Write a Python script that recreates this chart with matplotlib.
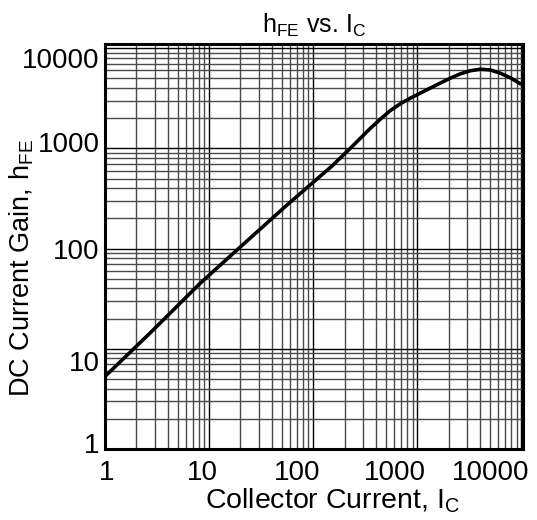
import matplotlib
matplotlib.use('Agg')
import matplotlib.pyplot as plt
import matplotlib.transforms as mtransforms
from matplotlib.ticker import LogLocator, NullFormatter

# ---- data ----
collector_current = [1, 2.7, 8.2, 20, 56, 150, 227, 353, 450, 550, 700, 857, 1070,
                     1330, 1660, 2080, 2590, 3240, 4040, 5040, 6280, 7840, 10000]
dc_gain = [5.3, 14.3, 45, 104, 272, 660, 1000, 1580, 1990, 2380, 2820, 3170, 3560,
           3990, 4480, 5020, 5540, 5950, 6160, 6060, 5620, 5060, 4350]

x_ticks = [1, 10, 100, 1000, 10000]
x_tick_labels = ['1', '10', '100', '1000', '10000']
y_ticks = [1, 10, 100, 1000, 10000]
y_tick_labels = ['1', '10', '100', '1000', '10000']

plt.rcParams['font.family'] = ['Liberation Sans', 'DejaVu Sans']
plt.rcParams['mathtext.fontset'] = 'custom'
plt.rcParams['mathtext.rm'] = 'Liberation Sans'
plt.rcParams['mathtext.it'] = 'Liberation Sans:italic'
plt.rcParams['mathtext.bf'] = 'Liberation Sans:bold'

W, H = 537, 520
fig = plt.figure(figsize=(W / 100, H / 100), dpi=100)
left, right, top, bottom = 105, 522.7, 44, 449
ax = fig.add_axes([left / W, (H - bottom) / H, (right - left) / W, (bottom - top) / H])

ax.set_xscale('log')
ax.set_yscale('log')
ax.set_xlim(1, 10300)
ax.set_ylim(1, 11000)

ax.plot(collector_current, dc_gain, color='black', lw=2.6, zorder=3,
        solid_joinstyle='round', solid_capstyle='butt')

ax.set_xticks(x_ticks)
ax.set_xticklabels(x_tick_labels)
ax.set_yticks(y_ticks)
ax.set_yticklabels(y_tick_labels)
for axis in (ax.xaxis, ax.yaxis):
    axis.set_minor_locator(LogLocator(base=10, subs=range(2, 10), numticks=20))
    axis.set_minor_formatter(NullFormatter())

ax.tick_params(which='both', length=0)
ax.tick_params(axis='x', labelsize=20, pad=8)
ax.tick_params(axis='y', labelsize=20, pad=4)

ax.grid(which='major', color='black', lw=1.0)
ax.grid(which='minor', color='#4a4a4a', lw=1.0)
ax.set_axisbelow(True)
for s in ax.spines.values():
    s.set_linewidth(2.2)
    s.set_zorder(4)

# label offsets (pixels) as placed in the reference
x_offsets = [2, -7, -16, -22, -31]
y_offsets = [6, -12, 0, 6, -10]
for lab, dx in zip(ax.get_xticklabels(), x_offsets):
    lab.set_transform(lab.get_transform() + mtransforms.ScaledTranslation(dx / 100, 0, fig.dpi_scale_trans))
for lab, dy in zip(ax.get_yticklabels(), y_offsets):
    lab.set_transform(lab.get_transform() + mtransforms.ScaledTranslation(0, dy / 100, fig.dpi_scale_trans))

ax.set_title(r'h$_\mathrm{FE}$ vs. I$_\mathrm{C}$', fontsize=18, pad=8)
ax.set_xlabel(r'Collector Current, I$_\mathrm{C}$', fontsize=20.5)
ax.set_ylabel(r'DC Current Gain, h$_\mathrm{FE}$', fontsize=19.5)
ax.xaxis.set_label_coords(0.545, -0.093)
ax.xaxis.label.set_va('top')
ax.yaxis.set_label_coords(-0.165, 0.447)

fig.savefig('out.png', dpi=100, facecolor='white')
